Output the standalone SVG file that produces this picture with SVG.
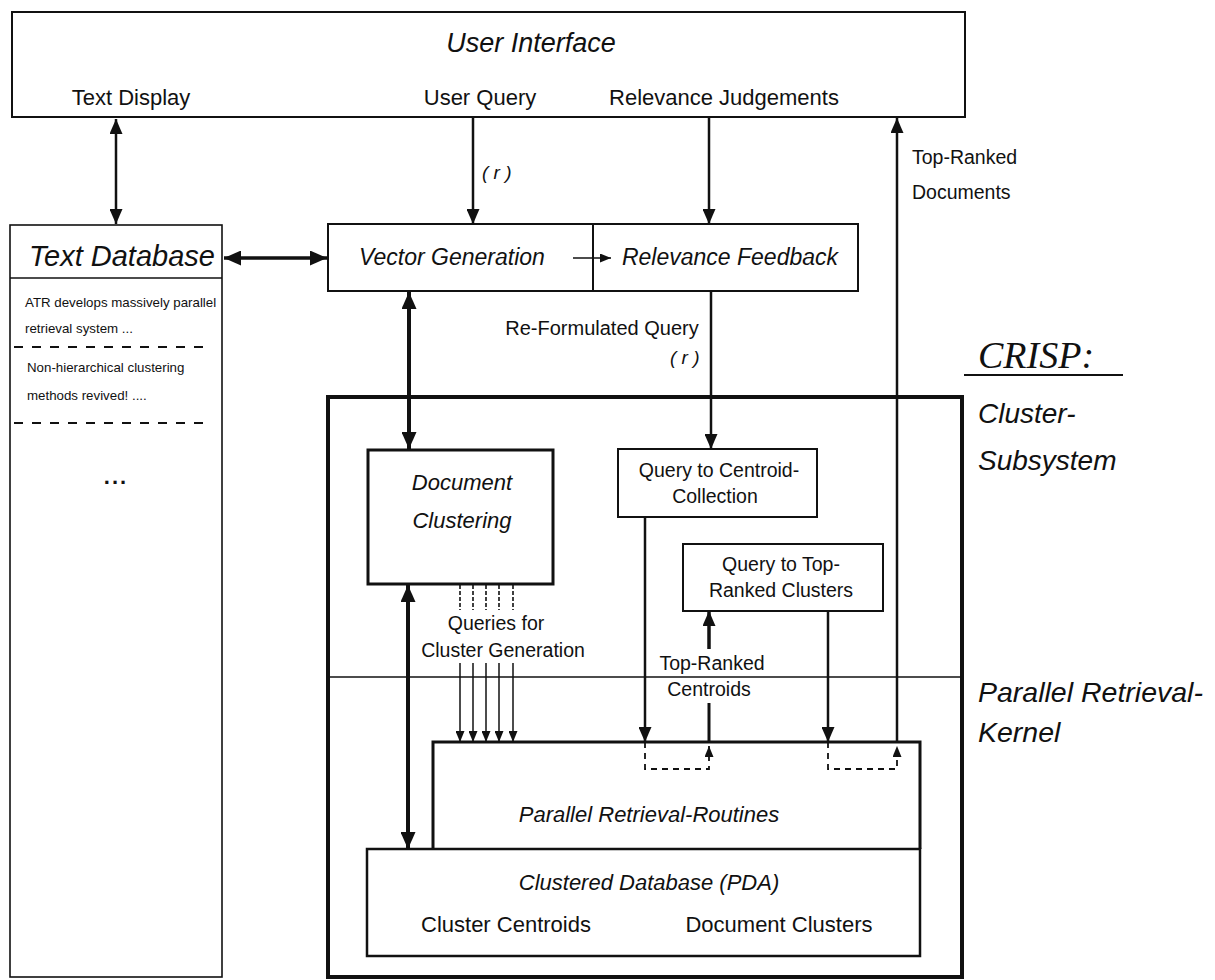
<svg xmlns="http://www.w3.org/2000/svg" width="1215" height="980" viewBox="0 0 1215 980">
<style>
  text { font-family: "Liberation Sans", Arial, sans-serif; fill: #111; }
  .it { font-style: italic; }
  .c { text-anchor: middle; }
  .box { fill: #fff; stroke: #111; }
  .ln { fill: none; stroke: #111; }
  .dash { fill: none; stroke: #111; stroke-width: 1.8; stroke-dasharray: 6 5; }
  .sm { font-size: 13.3px; }
</style>
<defs>
  <marker id="ah" viewBox="0 0 15 13" refX="15" refY="6.5" markerWidth="15" markerHeight="13" markerUnits="userSpaceOnUse" orient="auto-start-reverse">
    <path d="M0,0 L15,6.5 L0,13 z" fill="#111"/>
  </marker>
  <marker id="ahs" viewBox="0 0 11 9" refX="11" refY="4.5" markerWidth="11" markerHeight="9" markerUnits="userSpaceOnUse" orient="auto-start-reverse">
    <path d="M0,0 L11,4.5 L0,9 z" fill="#111"/>
  </marker>
  <marker id="ahb" viewBox="0 0 17 15" refX="17" refY="7.5" markerWidth="17" markerHeight="15" markerUnits="userSpaceOnUse" orient="auto-start-reverse">
    <path d="M0,0 L17,7.5 L0,15 z" fill="#111"/>
  </marker>
</defs>
<rect width="1215" height="980" fill="#fff"/>

<g id="user-interface">
  <rect class="box" x="12" y="12" width="953" height="105" stroke-width="2"/>
  <text class="it c" x="531" y="52" font-size="27">User Interface</text>
  <text class="c" x="131" y="105" font-size="22">Text Display</text>
  <text class="c" x="480" y="105" font-size="22">User Query</text>
  <text class="c" x="724" y="105" font-size="22">Relevance Judgements</text>
</g>

<g id="text-database">
  <rect class="box" x="10" y="225" width="212" height="752" stroke-width="1.6"/>
  <line class="ln" x1="10" y1="278" x2="222" y2="278" stroke-width="1.6"/>
  <text class="it" x="29" y="266" font-size="29">Text Database</text>
  <text class="sm" x="25" y="307">ATR develops massively parallel</text>
  <text class="sm" x="25" y="333">retrieval system ...</text>
  <line x1="14" y1="347" x2="212" y2="347" stroke="#111" stroke-width="1.8" stroke-dasharray="9 9"/>
  <text class="sm" x="27" y="372">Non-hierarchical clustering</text>
  <text class="sm" x="27" y="400">methods revived!  ....</text>
  <line x1="14" y1="423" x2="212" y2="423" stroke="#111" stroke-width="1.8" stroke-dasharray="9 9"/>
  <text class="c" x="116" y="484" font-size="22" font-weight="bold" letter-spacing="2">...</text>
</g>

<g id="vector-generation">
  <rect class="box" x="328" y="224" width="265" height="67" stroke-width="2"/>
  <text class="it c" x="452" y="265" font-size="23">Vector Generation</text>
</g>
<g id="relevance-feedback">
  <rect class="box" x="593" y="224" width="265" height="67" stroke-width="2"/>
  <text class="it c" x="730" y="265" font-size="23">Relevance Feedback</text>
</g>

<g id="crisp">
  <rect class="box" x="328" y="397" width="634" height="580" fill="none" stroke-width="4"/>
  <line class="ln" x1="328" y1="677" x2="962" y2="677" stroke-width="1.5"/>
  <text x="978" y="368" font-size="38" font-style="italic" style="font-family:'Liberation Serif','Times New Roman',serif">CRISP:</text>
  <line class="ln" x1="964" y1="375" x2="1123" y2="375" stroke-width="2"/>
  <text class="it" x="978" y="423" font-size="28">Cluster-</text>
  <text class="it" x="978" y="470" font-size="28">Subsystem</text>
  <text class="it" x="978" y="702" font-size="28.5">Parallel Retrieval-</text>
  <text class="it" x="978" y="742" font-size="28.5">Kernel</text>
</g>

<g id="document-clustering">
  <rect class="box" x="368" y="450" width="185" height="134" stroke-width="3"/>
  <text class="it c" x="462" y="490" font-size="22">Document</text>
  <text class="it c" x="462" y="528" font-size="22">Clustering</text>
</g>

<g id="query-centroid">
  <rect class="box" x="618" y="449" width="199" height="68" stroke-width="2"/>
  <text class="c" x="719" y="477" font-size="19.5">Query to Centroid-</text>
  <text class="c" x="715" y="503" font-size="19.5">Collection</text>
</g>

<g id="query-top-ranked">
  <rect class="box" x="683" y="544" width="200" height="67" stroke-width="2"/>
  <text class="c" x="781" y="571" font-size="19.5">Query to Top-</text>
  <text class="c" x="781" y="597" font-size="19.5">Ranked Clusters</text>
</g>

<g id="parallel-retrieval-routines">
  <path class="ln" d="M433,849 V742 H920 V849" stroke-width="3"/>
  <text class="it c" x="649" y="822" font-size="22">Parallel Retrieval-Routines</text>
</g>

<g id="clustered-database">
  <rect class="box" x="367" y="849" width="553" height="107" stroke-width="2.5"/>
  <text class="it c" x="649" y="890" font-size="22">Clustered Database (PDA)</text>
  <text class="c" x="506" y="932" font-size="22">Cluster Centroids</text>
  <text class="c" x="779" y="932" font-size="22">Document Clusters</text>
</g>

<g id="connectors">
  <path class="ln" d="M116,119 V224" stroke-width="2.5" marker-start="url(#ah)" marker-end="url(#ah)"/>
  <path class="ln" d="M473,117 V224" stroke-width="2.5" marker-end="url(#ah)"/>
  <text class="it" x="482" y="179" font-size="19">( r )</text>
  <path class="ln" d="M709,117 V224" stroke-width="2.5" marker-end="url(#ah)"/>
  <path class="ln" d="M897,742 V118" stroke-width="2.5" marker-end="url(#ah)"/>
  <text x="912" y="164" font-size="19.5">Top-Ranked</text>
  <text x="912" y="199" font-size="19.5">Documents</text>
  <path class="ln" d="M224,258 H327" stroke-width="3.5" marker-start="url(#ahb)" marker-end="url(#ahb)"/>
  <path class="ln" d="M573,258 H611" stroke-width="1.5" marker-end="url(#ahs)"/>
  <path class="ln" d="M409,292 V449" stroke-width="4" marker-start="url(#ahb)" marker-end="url(#ahb)"/>
  <path class="ln" d="M711,291 V449" stroke-width="2.5" marker-end="url(#ah)"/>
  <text class="c" x="602" y="335" font-size="20">Re-Formulated Query</text>
  <text class="it" x="670" y="364" font-size="19">( r )</text>
  <path class="ln" d="M408,585 V849" stroke-width="4" marker-start="url(#ahb)" marker-end="url(#ahb)"/>
  <g stroke="#111" stroke-width="1.6" stroke-dasharray="4 2">
    <line x1="460" y1="585" x2="460" y2="610"/>
    <line x1="473" y1="585" x2="473" y2="610"/>
    <line x1="486" y1="585" x2="486" y2="610"/>
    <line x1="499" y1="585" x2="499" y2="610"/>
    <line x1="513" y1="585" x2="513" y2="610"/>
  </g>
  <text class="c" x="496" y="630" font-size="19.5">Queries for</text>
  <text class="c" x="503" y="657" font-size="19.5">Cluster Generation</text>
  <path class="ln" d="M460,663 V742" stroke-width="1.5" marker-end="url(#ahs)"/>
  <path class="ln" d="M473,663 V742" stroke-width="1.5" marker-end="url(#ahs)"/>
  <path class="ln" d="M486,663 V742" stroke-width="1.5" marker-end="url(#ahs)"/>
  <path class="ln" d="M499,663 V742" stroke-width="1.5" marker-end="url(#ahs)"/>
  <path class="ln" d="M513,663 V742" stroke-width="1.5" marker-end="url(#ahs)"/>
  <path class="ln" d="M645,517 V742" stroke-width="2.5" marker-end="url(#ah)"/>
  <path class="dash" d="M645,742 V769 H709 V746" marker-end="url(#ahs)"/>
  <path class="ln" d="M709,742 V703" stroke-width="3"/>
  <path class="ln" d="M709,649 V611" stroke-width="3.5" marker-end="url(#ah)"/>
  <text class="c" x="712" y="670" font-size="19.5">Top-Ranked</text>
  <text class="c" x="709" y="696" font-size="19.5">Centroids</text>
  <path class="ln" d="M828,611 V742" stroke-width="2.5" marker-end="url(#ah)"/>
  <path class="dash" d="M828,742 V769 H897 V746" marker-end="url(#ahs)"/>
</g>
</svg>
